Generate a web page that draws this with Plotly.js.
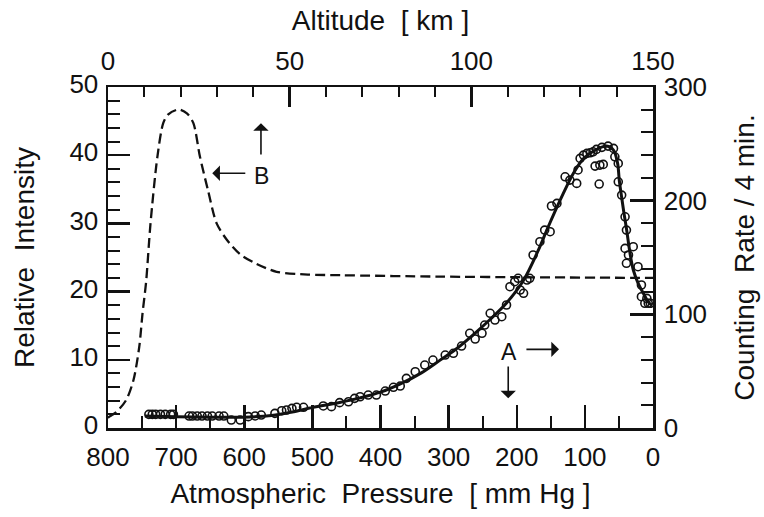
<!DOCTYPE html>
<html>
<head>
<meta charset="utf-8">
<script src="https://cdn.plot.ly/plotly-3.0.1.min.js"></script>
<style>
  html, body { margin: 0; padding: 0; background: #fff; }
  #chart { width: 764px; height: 517px; }
</style>
</head>
<body>
<div id="chart"></div>
<script>
// Curve B: relative intensity against altitude (top and left axes)
const altitudeKm = [0, 0.5, 2.4, 5, 7, 8.6, 9.5, 10.5, 11.7, 13.6, 15.2, 16.6, 19.4, 21.8, 23.5, 25.3, 27.5, 29.9, 32.7, 36.3, 40, 46.4, 55, 64, 91, 117, 150];
const relIntensity = [1.5, 1.7, 2.4, 4.1, 7, 11.9, 16.8, 21.5, 30, 39.8, 44.7, 46.0, 46.7, 46.1, 44.7, 39.8, 34.9, 30, 27.6, 25.5, 24.3, 22.9, 22.5, 22.4, 22.2, 22.1, 22.0];

// Curve A: counting rate against atmospheric pressure (bottom and right axes)
const fitPressure = [746, 700, 650, 600, 560, 530, 500, 460, 430, 400, 370, 340, 313, 290, 264, 240, 215, 190, 166, 156, 132, 117, 102, 83, 68, 58, 52, 49.5, 46, 42.6, 38.6, 33.8, 28.9, 21.6, 14.2, 6.9, 1.9];
const fitCounts   = [10.5, 10, 9.5, 9.5, 11, 14, 18, 22.5, 26.5, 31.5, 39, 48.5, 59.5, 69, 82, 95, 110, 130, 159.5, 174, 206, 224, 237, 245, 248, 244.5, 233, 218, 203, 189, 174, 154, 139, 127, 118.5, 111, 108];

// Measured counting rates
const obsPressure = [740, 735, 730, 723, 716, 708, 704, 681, 676, 669, 662, 654, 647, 637, 630, 619, 606, 594, 584, 575, 555, 545, 538, 530, 523, 513, 484, 472, 460, 447, 438, 430, 418, 406, 393, 381, 371, 362, 349, 335, 323, 305, 293, 281, 269, 261, 251, 247, 239, 232, 222, 215, 210, 203, 198, 195, 190, 185, 181, 176, 166, 159, 151, 149, 141, 129, 122, 112, 110, 107, 102, 97, 92, 88, 83, 75, 66, 58, 56, 51, 85, 78, 73, 79, 51, 46, 41, 39, 41, 36, 39, 29, 22, 17, 17, 12, 7, 9, 4];
const obsCounts   = [12, 12, 12, 12, 12, 12, 12, 10.5, 10.5, 10.5, 10.5, 10.5, 10.5, 10.5, 10.5, 7, 7, 10, 10.6, 11.4, 12.9, 15.2, 15.8, 17.3, 18.2, 18.2, 19.4, 18.8, 22.3, 23.1, 26.1, 27.5, 29, 29, 32.5, 35.8, 36.9, 43.7, 49.5, 55.4, 59.8, 64.2, 65.7, 72.1, 83.3, 78.3, 83.3, 90.6, 100.9, 95, 97.9, 108.2, 124.3, 128.7, 131.7, 121.4, 118.5, 130.2, 131.7, 152.2, 163.9, 174.1, 172.7, 195.3, 197.6, 221, 218.1, 215.2, 227, 237.2, 240.1, 241.6, 242.1, 243, 245.1, 246.9, 248, 246, 238.6, 232.8, 230.4, 231.3, 231.9, 214.6, 216.6, 204.9, 185.8, 174.1, 158, 152.2, 144.9, 159.5, 141.9, 125.8, 115.5, 109.7, 109.7, 114, 109.7];

const FONT = 'Liberation Sans, Arial, Helvetica, sans-serif';
const INK = '#111';

// Main subplot (x, y): pressure along the bottom, counting rate on the right.
// Overlay subplot (x2, y2): altitude along the top, relative intensity on the left.
const traces = [
  {
    x: altitudeKm, y: relIntensity, xaxis: 'x2', yaxis: 'y2',
    mode: 'lines', line: { color: INK, width: 2.3, dash: '10px,5px', shape: 'spline', smoothing: 0.8 },
    hoverinfo: 'skip', showlegend: false
  },
  {
    x: obsPressure, y: obsCounts, xaxis: 'x', yaxis: 'y',
    mode: 'markers', marker: { symbol: 'circle-open', size: 8, color: INK, line: { width: 1.6, color: INK } },
    showlegend: false
  },
  {
    x: fitPressure, y: fitCounts, xaxis: 'x', yaxis: 'y',
    mode: 'lines', line: { color: INK, width: 3, shape: 'spline', smoothing: 0.9 },
    hoverinfo: 'skip', showlegend: false
  }
];

const axisCommon = {
  ticks: 'inside', tickwidth: 2.5, tickcolor: INK,
  showline: true, linewidth: 2.5, linecolor: INK,
  showgrid: false, zeroline: false,
  tickfont: { family: FONT, size: 26, color: INK },
  autorange: false, fixedrange: true
};

const titleFont = { family: FONT, size: 28, color: INK };

const arrow = { showarrow: true, arrowhead: 1, arrowsize: 1.6, arrowwidth: 1.6, arrowcolor: INK, text: '', standoff: 0, startstandoff: 0 };

const layout = {
  width: 764, height: 517,
  margin: { l: 108, r: 111, t: 87, b: 89 },
  paper_bgcolor: '#fff', plot_bgcolor: '#fff',
  font: { family: FONT, color: INK },
  xaxis: Object.assign({}, axisCommon, {
    side: 'bottom', anchor: 'y',
    range: [800, 0], tick0: 0, dtick: 100, ticklen: 23,
    minor: { dtick: 50, ticks: 'inside', ticklen: 12, tickwidth: 2, tickcolor: INK },
    ticklabelstandoff: 4,
    title: { text: 'Atmospheric\u00A0 Pressure\u00A0 [ mm Hg ]', font: titleFont, standoff: 13 }
  }),
  yaxis: Object.assign({}, axisCommon, {
    side: 'right', anchor: 'x',
    range: [0, 300], tick0: 0, dtick: 100, ticklen: 23,
    minor: { dtick: 20, ticks: 'inside', ticklen: 12, tickwidth: 2, tickcolor: INK },
    ticklabelstandoff: 3,
    title: { text: 'Counting\u00A0 Rate / 4 min.', font: titleFont, standoff: 29 }
  }),
  xaxis2: Object.assign({}, axisCommon, {
    overlaying: 'x', side: 'top', anchor: 'y2',
    range: [0, 150], tick0: 0, dtick: 50, ticklen: 20,
    minor: { dtick: 10, ticks: 'inside', ticklen: 10, tickwidth: 2, tickcolor: INK },
    ticklabelstandoff: 4,
    title: { text: 'Altitude\u00A0 [ km ]', font: titleFont, standoff: 8 }
  }),
  yaxis2: Object.assign({}, axisCommon, {
    overlaying: 'y', side: 'left', anchor: 'x2',
    range: [0, 50], tick0: 0, dtick: 10, ticklen: 22,
    minor: { dtick: 2, ticks: 'inside', ticklen: 12, tickwidth: 2, tickcolor: INK },
    ticklabelstandoff: 2, ticklabelshift: -3,
    title: { text: 'Relative\u00A0 Intensity', font: titleFont, standoff: 27 }
  }),
  annotations: [
    // B: read against the left and top axes
    Object.assign({}, arrow, { xref: 'x2', yref: 'y2', axref: 'x2', ayref: 'y2', x: 28.7, y: 37.35, ax: 38.2, ay: 37.35 }),
    Object.assign({}, arrow, { xref: 'x2', yref: 'y2', axref: 'x2', ayref: 'y2', x: 42.1, y: 44.7, ax: 42.1, ay: 39.9 }),
    { xref: 'x2', yref: 'y2', x: 42.3, y: 37.0, text: 'B', showarrow: false, font: { family: FONT, size: 23, color: INK } },
    // A: read against the right and bottom axes
    Object.assign({}, arrow, { xref: 'x', yref: 'y', axref: 'x', ayref: 'y', x: 138, y: 69.2, ax: 188, ay: 69.2 }),
    Object.assign({}, arrow, { xref: 'x', yref: 'y', axref: 'x', ayref: 'y', x: 212.5, y: 26.1, ax: 212.5, ay: 55.4 }),
    { xref: 'x', yref: 'y', x: 211.2, y: 66.7, text: 'A', showarrow: false, font: { family: FONT, size: 23, color: INK } }
  ]
};

Plotly.newPlot('chart', traces, layout, { staticPlot: true, displayModeBar: false });
</script>
</body>
</html>
